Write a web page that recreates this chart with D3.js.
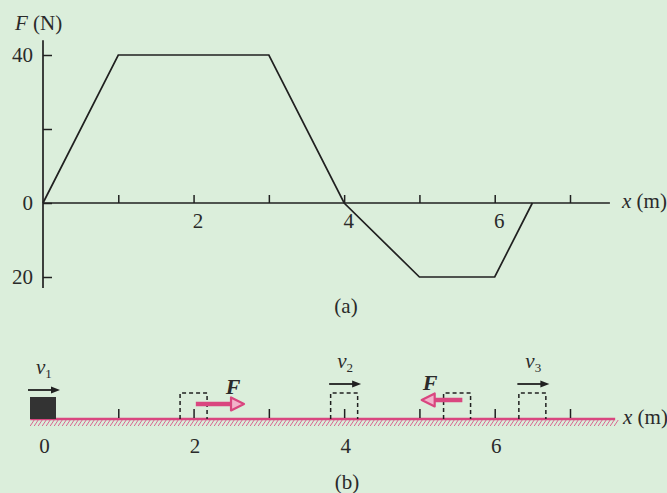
<!DOCTYPE html>
<html><head><meta charset="utf-8">
<script src="https://cdn.jsdelivr.net/npm/d3@7"></script>
<style>
html,body{margin:0;padding:0;background:#dbeedb;}
svg{display:block;}
text{font-family:"Liberation Serif","DejaVu Serif",serif;fill:#2a2a2a;}
</style></head><body>
<svg id="c" width="667" height="493"></svg>
<script>
// ---- data ----
const positions = [0, 1, 3, 4, 5, 6, 6.5];          // x (m)
const forces    = [0, 40, 40, 0, -20, -20, 0];      // F (N)
const xTicks = [1, 2, 3, 4, 5, 6, 7];
const xTickLabels = ["", "2", "", "4", "", "6", ""];
const yTicks = [40, 20, 0, -20];
const yTickLabels = ["40", "", "0", "20"];
const bTickLabels = ["0", "2", "4", "6"];
const bTickValues = [0, 2, 4, 6];
const boxPositions = [2, 4, 5.5, 6.5];               // dashed block positions
const velArrows = [{x: 0, sub: "1"}, {x: 4, sub: "2"}, {x: 6.5, sub: "3"}];
const forceArrows = [{x0: 2.03, x1: 2.67}, {x0: 5.57, x1: 5.03}];

const svg = d3.select("#c");
const ink = "#202020", pink = "#d9467f";
const FONT = "Liberation Serif";

// ---- scales ----
const x = d3.scaleLinear().domain([0, 7]).range([43, 570]);
const y = d3.scaleLinear().domain([-20, 40]).range([277, 55]);

// ---- panel (a) ----
const gA = svg.append("g");
gA.append("line").attr("x1", x(0)).attr("x2", x(7.53)).attr("y1", y(0)).attr("y2", y(0))
  .attr("stroke", ink).attr("stroke-width", 1.7);
gA.append("line").attr("x1", x(0)).attr("x2", x(0)).attr("y1", y(44)).attr("y2", y(-23))
  .attr("stroke", ink).attr("stroke-width", 1.7);

const xAxisTicks = d3.axisTop(x).tickValues(xTicks).tickSize(8).tickSizeOuter(0).tickFormat("");
gA.append("g").attr("transform", `translate(0,${y(0)})`).call(xAxisTicks)
  .call(g => g.select(".domain").remove())
  .call(g => g.selectAll("line").attr("stroke", ink).attr("stroke-width", 1.5));
const xAxisLabels = d3.axisBottom(x).tickValues(xTicks).tickSize(0).tickPadding(10)
  .tickFormat((d, i) => xTickLabels[i]);
gA.append("g").attr("transform", `translate(4,${y(0)})`).call(xAxisLabels)
  .call(g => g.select(".domain").remove())
  .call(g => g.selectAll("text").attr("font-size", 21).attr("font-family", FONT).attr("fill", "#2a2a2a"));

const yAxis = d3.axisLeft(y).tickValues(yTicks).tickSize(-9).tickSizeOuter(0).tickPadding(10)
  .tickFormat((d, i) => yTickLabels[i]);
gA.append("g").attr("transform", `translate(${x(0)},0)`).call(yAxis)
  .call(g => g.select(".domain").remove())
  .call(g => g.selectAll("line").attr("stroke", ink).attr("stroke-width", 1.5))
  .call(g => g.selectAll("text").attr("font-size", 21).attr("font-family", FONT).attr("fill", "#2a2a2a"));

const line = d3.line().x((d, i) => x(positions[i])).y(d => y(d));
gA.append("path").datum(forces).attr("d", line).attr("fill", "none")
  .attr("stroke", ink).attr("stroke-width", 1.7);

const fn = gA.append("text").attr("x", 15).attr("y", 30).attr("font-size", 21);
fn.append("tspan").attr("font-style", "italic").text("F");
fn.append("tspan").text(" (N)");
const xm = gA.append("text").attr("x", 622).attr("y", 208).attr("font-size", 21);
xm.append("tspan").attr("font-style", "italic").text("x");
xm.append("tspan").text(" (m)");
gA.append("text").attr("x", 346).attr("y", 313).attr("text-anchor", "middle").attr("font-size", 21).text("(a)");

// ---- panel (b) ----
const gB = svg.append("g");
const groundY = 419;
const hatchX = d3.range(x(-0.17), x(7.6), 4);
gB.append("g").selectAll("line").data(hatchX).join("line")
  .attr("x1", d => d).attr("x2", d => d + 4).attr("y1", groundY + 7).attr("y2", groundY + 1)
  .attr("stroke", pink).attr("stroke-width", 1).attr("opacity", 0.8);
gB.append("line").attr("x1", x(-0.17)).attr("x2", x(7.6)).attr("y1", groundY).attr("y2", groundY)
  .attr("stroke", pink).attr("stroke-width", 2.4);

const bAxis = d3.axisTop(x).tickValues(xTicks).tickSize(9).tickSizeOuter(0).tickFormat("");
gB.append("g").attr("transform", `translate(0,${groundY - 1})`).call(bAxis)
  .call(g => g.select(".domain").remove())
  .call(g => g.selectAll("line").attr("stroke", ink).attr("stroke-width", 1.5));
const bLabels = d3.axisBottom(x).tickValues(bTickValues).tickSize(0).tickPadding(19)
  .tickFormat((d, i) => bTickLabels[i]);
gB.append("g").attr("transform", `translate(1,${groundY})`).call(bLabels)
  .call(g => g.select(".domain").remove())
  .call(g => g.selectAll("text").attr("font-size", 21).attr("font-family", FONT).attr("fill", "#2a2a2a"));

const bw = 26;
gB.append("rect").attr("x", x(0) - bw / 2).attr("y", groundY - 22).attr("width", bw).attr("height", 22)
  .attr("fill", "#333");

gB.append("g").selectAll("path").data(boxPositions).join("path")
  .attr("d", d => {
    const l = x(d) - 13.5, r = x(d) + 13.5, t = groundY - 26;
    return `M${l},${groundY}V${t}H${r}V${groundY}`;
  })
  .attr("fill", "none").attr("stroke", ink).attr("stroke-width", 1.5).attr("stroke-dasharray", "4,3");

const vArr = gB.append("g").selectAll("g").data(velArrows).join("g")
  .attr("transform", d => `translate(${x(d.x)},${d.x === 0 ? 390 : 384})`);
vArr.append("line").attr("x1", -15).attr("x2", 10).attr("y1", 0).attr("y2", 0)
  .attr("stroke", ink).attr("stroke-width", 1.8);
vArr.append("path").attr("d", "M17,0L8,-3.5L8,3.5Z").attr("fill", ink);
const vt = vArr.append("text").attr("x", -7).attr("y", -16).attr("font-size", 21);
vt.append("tspan").attr("font-style", "italic").text("v");
vt.append("tspan").attr("font-size", 13).attr("dy", 4).text(d => d.sub);

const fArr = gB.append("g").selectAll("g").data(forceArrows).join("g");
fArr.each(function (d) {
  const g = d3.select(this);
  const dir = d.x1 > d.x0 ? 1 : -1;
  const yy = dir > 0 ? 404 : 400;
  const xs = x(d.x0), xe = x(d.x1);
  g.append("line").attr("x1", xs).attr("x2", xe - dir * 12).attr("y1", yy).attr("y2", yy)
    .attr("stroke", pink).attr("stroke-width", 4.5);
  g.append("path").attr("d", `M${xe},${yy}L${xe - dir * 13},${yy - 6.5}L${xe - dir * 13},${yy + 6.5}Z`)
    .attr("fill", "#f2b3cb").attr("stroke", pink).attr("stroke-width", 2.2).attr("stroke-linejoin", "round");
  g.append("text").attr("x", dir > 0 ? xs + 30 : xe + 1).attr("y", dir > 0 ? 394 : 390)
    .attr("font-size", 22).attr("font-weight", "bold").attr("font-style", "italic").text("F");
});

const xm2 = gB.append("text").attr("x", 623).attr("y", 424).attr("font-size", 21);
xm2.append("tspan").attr("font-style", "italic").text("x");
xm2.append("tspan").text(" (m)");
gB.append("text").attr("x", 347).attr("y", 489).attr("text-anchor", "middle").attr("font-size", 21).text("(b)");
</script>
</body></html>
